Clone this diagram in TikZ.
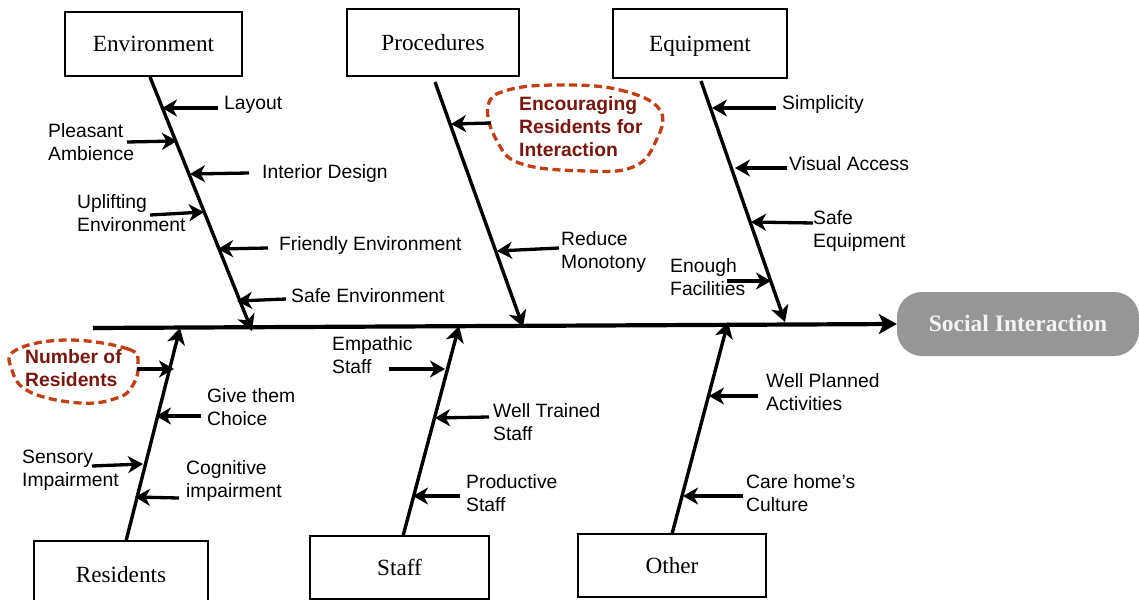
\documentclass[tikz,border=0pt]{standalone}
\usepackage{fontspec}
\setmainfont{Liberation Serif}
\newfontfamily\labfont{Liberation Sans}
\usetikzlibrary{arrows.meta}
\definecolor{cloudline}{RGB}{196,62,20}
\definecolor{cloudtext}{RGB}{122,22,14}
\definecolor{headfill}{RGB}{150,150,150}
\definecolor{headtext}{RGB}{244,244,244}

\begin{document}
\begin{tikzpicture}[x=1pt,y=-1pt,
  catbox/.style={draw, line width=1.8pt, inner sep=0pt,
    font=\fontsize{23.2}{27}\selectfont, text height=15.5pt, text depth=0pt},
  headbox/.style={fill=headfill, rounded corners=25pt, inner sep=0pt,
    minimum width=242pt, minimum height=64pt, text=headtext,
    font=\fontsize{23.5}{27}\selectfont\bfseries, text height=15.5pt, text depth=0pt},
  spine/.style={line width=4.2pt, arrows={-Stealth[length=18pt,width=20pt,inset=4.5pt]}},
  bone/.style={line width=3.4pt, arrows={-Stealth[length=16pt,width=18pt,inset=4.5pt]}},
  cause/.style={line width=3.3pt, arrows={-Stealth[length=15pt,width=17pt,inset=4.5pt]}},
  lab/.style={font=\labfont\fontsize{19.3}{23}\selectfont, align=left,
    inner sep=0pt, anchor=base west},
  hot/.style={lab, font=\labfont\bfseries\fontsize{19.3}{23}\selectfont, text=cloudtext},
  two/.style={yshift=-23pt},
  three/.style={yshift=-46pt},
  cloud/.style={draw=cloudline, line width=3.3pt, dash pattern=on 8pt off 4.5pt}
]
\useasboundingbox (0,0) rectangle (1139,599);

% category boxes
\node[catbox, minimum width=177pt, minimum height=64pt] (env)   at (153.5,44)  {Environment};
\node[catbox, minimum width=172pt, minimum height=67pt] (proc)  at (433,42.5)  {Procedures};
\node[catbox, minimum width=174pt, minimum height=69pt] (equip) at (700,43.5)  {Equipment};
\node[catbox, minimum width=174pt, minimum height=67pt] (res)   at (121,574.5) {Residents};
\node[catbox, minimum width=179pt, minimum height=63pt] (staff) at (399.5,567.5) {Staff};
\node[catbox, minimum width=188pt, minimum height=63pt] (other) at (672,565.5) {Other};

% effect
\node[headbox] (head) at (1018,324) {Social Interaction};

% spine
\coordinate (tail) at (93,328);
\draw[spine] (tail) -- (head.west);

% bone end points
\coordinate (envS) at (150,77);   \coordinate (envE) at (252,331);
\coordinate (procS) at (435,82);  \coordinate (procE) at (523,327);
\coordinate (equS) at (701,81);   \coordinate (equE) at (785,322);
\coordinate (resS) at (126,541);  \coordinate (resE) at (180,328);
\coordinate (stfS) at (403,536);  \coordinate (stfE) at (459,326);
\coordinate (othS) at (672,534);  \coordinate (othE) at (728,322);

\draw[bone] (envS) -- (envE);
\draw[bone] (procS) -- (procE);
\draw[bone] (equS) -- (equE);
\draw[bone] (resS) -- (resE);
\draw[bone] (stfS) -- (stfE);
\draw[bone] (othS) -- (othE);

% Environment causes
\coordinate (a1) at (218,108); \coordinate (b1) at (162,108);
\coordinate (a2) at (127,142); \coordinate (b2) at (177,141);
\coordinate (a3) at (249,173); \coordinate (b3) at (190,174);
\coordinate (a4) at (150,215); \coordinate (b4) at (204,212);
\coordinate (a5) at (268,248); \coordinate (b5) at (218,249);
\coordinate (a6) at (286,299); \coordinate (b6) at (237,301);
\foreach \i in {1,...,6} \draw[cause] (a\i) -- (b\i);
\node[lab] (layout)         at (224,110) {Layout};
\node[lab, two] (pleasant)  at (48,137)  {Pleasant\\Ambience};
\node[lab] (interior)       at (262,178) {Interior Design};
\node[lab, two] (uplift)    at (77,208)  {Uplifting\\Environment};
\node[lab] (friendly)       at (279,250) {Friendly Environment};
\node[lab] (safeenv)        at (291,302) {Safe Environment};

% Procedures causes
\draw[cloud] plot[smooth cycle, tension=0.7] coordinates
  {(560,85) (620,90) (660,110) (655,143) (633,167) (587,171) (522,164) (497,141) (488,106) (508,90)};
\node[hot, three] (encour) at (519,110) {Encouraging\\Residents for\\Interaction};
\coordinate (c1) at (491,123); \coordinate (d1) at (451,124);
\coordinate (c2) at (559,248); \coordinate (d2) at (497,251);
\foreach \i in {1,2} \draw[cause] (c\i) -- (d\i);
\node[lab, two] (reduce) at (561,245) {Reduce\\Monotony};

% Equipment causes
\coordinate (e1) at (776,108); \coordinate (f1) at (712,108);
\coordinate (e2) at (787,168); \coordinate (f2) at (735,168);
\coordinate (e3) at (813,223); \coordinate (f3) at (751,222);
\coordinate (e4) at (727,281); \coordinate (f4) at (771,281);
\foreach \i in {1,...,4} \draw[cause] (e\i) -- (f\i);
\node[lab] (simpl)       at (782,110) {Simplicity};
\node[lab] (visual)      at (789,170) {Visual Access};
\node[lab, two] (safeeq) at (813,224) {Safe\\Equipment};
\node[lab, two] (enough) at (670,272) {Enough\\Facilities};

% Residents causes
\draw[cloud] plot[smooth cycle, tension=0.7] coordinates
  {(67,340) (128,349) (138,364) (133,385) (117,398) (80,403) (30,392) (12,370) (16,350)};
\node[hot, two] (number) at (25,363) {Number of\\Residents};
\coordinate (g1) at (137,369); \coordinate (h1) at (174,369);
\coordinate (g2) at (201,416); \coordinate (h2) at (156,416);
\coordinate (g3) at (92,466);  \coordinate (h3) at (143,464);
\coordinate (g4) at (179,498); \coordinate (h4) at (135,497);
\foreach \i in {1,...,4} \draw[cause] (g\i) -- (h\i);
\node[lab, two] (choice)    at (207,402) {Give them\\Choice};
\node[lab, two] (sensory)   at (22,463)  {Sensory\\Impairment};
\node[lab, two] (cognitive) at (186,474) {Cognitive\\impairment};

% Staff causes
\coordinate (k1) at (389,369); \coordinate (l1) at (445,369);
\coordinate (k2) at (489,417); \coordinate (l2) at (435,418);
\coordinate (k3) at (460,496); \coordinate (l3) at (413,496);
\foreach \i in {1,2,3} \draw[cause] (k\i) -- (l\i);
\node[lab, two] (empathic) at (332,350) {Empathic\\Staff};
\node[lab, two] (trained)  at (493,417) {Well Trained\\Staff};
\node[lab, two] (product)  at (466,488) {Productive\\Staff};

% Other causes
\coordinate (m1) at (758,396); \coordinate (n1) at (709,396);
\coordinate (m2) at (743,496); \coordinate (n2) at (683,496);
\foreach \i in {1,2} \draw[cause] (m\i) -- (n\i);
\node[lab, two] (planned) at (766,387) {Well Planned\\Activities};
\node[lab, two] (culture) at (746,488) {Care home’s\\Culture};
\end{tikzpicture}
\end{document}
